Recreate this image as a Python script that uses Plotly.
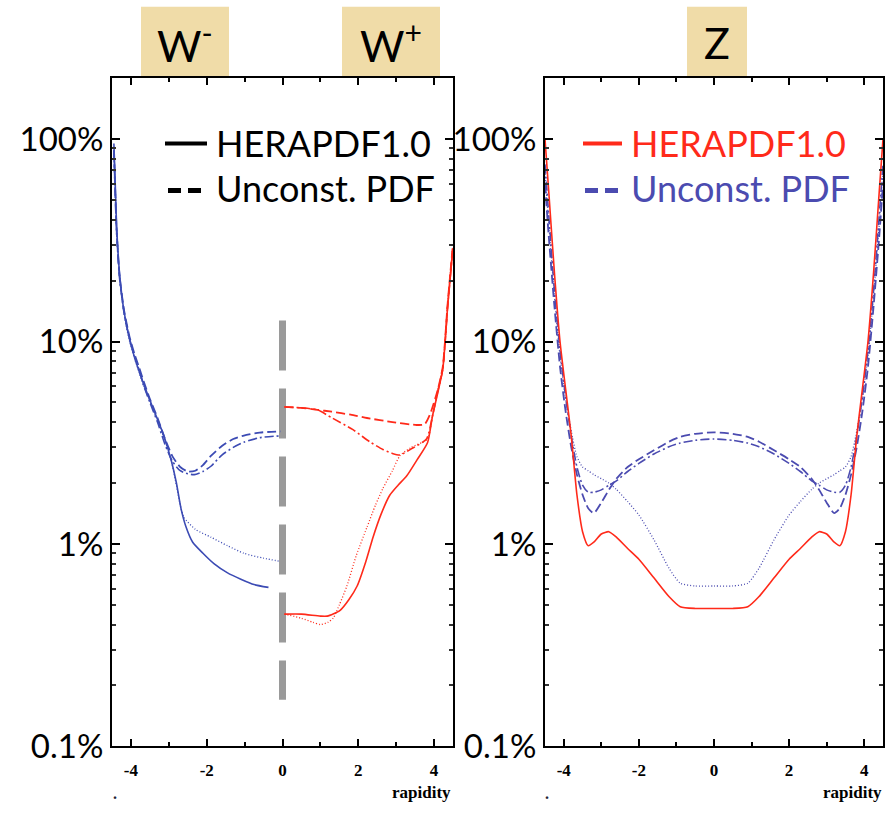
import plotly.graph_objects as go

W, H = 885, 824

# ---------------- data (percent) ----------------
# Left panel, W- (blue)
wm_sol_x = [-4.45, -4.42, -4.38, -4.3, -4.18, -4.04, -3.9, -3.78, -3.67, -3.4, -3.15, -2.94, -2.8, -2.68, -2.55, -2.37, -2.1, -1.81, -1.45, -1.1, -0.75, -0.37]
wm_sol_y = [95, 65, 38, 21.6, 14, 10.3, 8.3, 7.1, 6.2, 4.6, 3.5, 2.6, 2.0, 1.5, 1.22, 1.02, 0.9, 0.8, 0.72, 0.67, 0.63, 0.61]
wm_dot_x = [-4.45, -4.42, -4.38, -4.3, -4.18, -4.04, -3.9, -3.78, -3.67, -3.4, -3.15, -2.94, -2.8, -2.68, -2.6, -2.3, -1.89, -1.45, -1.02, -0.5, -0.05]
wm_dot_y = [92, 62, 37, 21.0, 13.6, 10.1, 8.2, 7.0, 6.1, 4.55, 3.45, 2.6, 1.95, 1.5, 1.35, 1.18, 1.08, 0.98, 0.9, 0.85, 0.82]
wm_dash_x = [-4.45, -4.42, -4.38, -4.3, -4.18, -4.04, -3.9, -3.78, -3.67, -3.5, -3.3, -3.1, -2.9, -2.7, -2.5, -2.3, -2.1, -1.89, -1.6, -1.3, -1.02, -0.6, -0.05]
wm_dash_y = [88, 60, 36, 21.0, 14.2, 10.6, 8.6, 7.4, 6.4, 5.2, 4.2, 3.3, 2.7, 2.4, 2.28, 2.3, 2.45, 2.72, 3.05, 3.3, 3.43, 3.55, 3.6]
wm_dd_x = [-4.45, -4.42, -4.38, -4.3, -4.18, -4.04, -3.9, -3.78, -3.67, -3.5, -3.3, -3.1, -2.9, -2.7, -2.5, -2.33, -2.1, -1.89, -1.6, -1.3, -1.02, -0.6, -0.05]
wm_dd_y = [85, 58, 35, 20.5, 13.8, 10.4, 8.4, 7.2, 6.1, 5.0, 4.0, 3.1, 2.55, 2.3, 2.22, 2.2, 2.28, 2.42, 2.75, 3.0, 3.18, 3.35, 3.42]

# Left panel, W+ (red)
wp_sol_x = [0.05, 0.5, 1.0, 1.18, 1.52, 1.75, 1.97, 2.2, 2.39, 2.6, 2.83, 3.05, 3.28, 3.55, 3.83, 3.96, 4.1, 4.23, 4.36, 4.49]
wp_sol_y = [0.45, 0.45, 0.44, 0.44, 0.47, 0.53, 0.62, 0.82, 1.08, 1.4, 1.74, 1.95, 2.17, 2.6, 3.17, 4.3, 5.6, 7.3, 15, 28]
wp_dot_x = [0.05, 0.5, 0.8, 1.0, 1.2, 1.34, 1.5, 1.7, 1.95, 2.23, 2.45, 2.65, 2.9, 3.1, 3.4, 3.83, 3.96, 4.1, 4.23, 4.36, 4.49]
wp_dot_y = [0.45, 0.43, 0.41, 0.40, 0.41, 0.43, 0.5, 0.62, 0.88, 1.21, 1.55, 1.88, 2.3, 2.73, 3.0, 3.3, 4.3, 5.7, 7.4, 15.5, 29]
wp_dash_x = [0.05, 0.5, 0.92, 1.3, 1.8, 2.23, 2.9, 3.54, 3.75, 3.9, 4.1, 4.23, 4.36, 4.49]
wp_dash_y = [4.75, 4.7, 4.6, 4.5, 4.35, 4.19, 4.0, 3.87, 3.9, 4.4, 5.8, 7.5, 15.5, 29]
wp_dd_x = [0.05, 0.5, 0.92, 1.3, 1.86, 2.3, 2.65, 2.9, 3.1, 3.4, 3.8, 3.96, 4.1, 4.23, 4.36, 4.49]
wp_dd_y = [4.75, 4.7, 4.6, 4.2, 3.67, 3.2, 2.93, 2.8, 2.75, 2.95, 3.3, 4.3, 5.7, 7.3, 15, 28]

# Right panel, Z
z_x = [-4.5, -4.4, -4.25, -4.1, -3.95, -3.8, -3.65, -3.5, -3.35, -3.2, -3.0, -2.8, -2.6, -2.3, -2.0, -1.6, -1.2, -0.9, -0.5, 0.0,
       0.5, 0.9, 1.2, 1.6, 2.0, 2.3, 2.6, 2.8, 3.0, 3.2, 3.35, 3.5, 3.65, 3.8, 3.95, 4.1, 4.25, 4.4, 4.5]
z_sol_y = [100, 55, 22, 10, 5.8, 3.4, 1.75, 1.15, 0.98, 1.02, 1.12, 1.15, 1.08, 0.95, 0.84, 0.68, 0.55, 0.49, 0.48, 0.48,
           0.48, 0.49, 0.55, 0.68, 0.84, 0.95, 1.08, 1.15, 1.12, 1.02, 0.98, 1.15, 1.75, 3.4, 5.8, 10, 22, 55, 100]
z_dot_y = [70, 38, 17, 8.5, 5.2, 3.6, 2.7, 2.4, 2.3, 2.2, 2.1, 2.0, 1.86, 1.62, 1.39, 1.05, 0.76, 0.64, 0.62, 0.62,
           0.62, 0.64, 0.76, 1.05, 1.39, 1.62, 1.86, 2.0, 2.1, 2.2, 2.3, 2.4, 2.7, 3.6, 5.2, 8.5, 17, 38, 70]
z_dash_y = [60, 33, 15, 7.5, 4.5, 3.0, 2.2, 1.75, 1.5, 1.42, 1.6, 1.85, 2.1, 2.4, 2.62, 2.9, 3.2, 3.38, 3.5, 3.56,
            3.5, 3.38, 3.2, 2.9, 2.62, 2.4, 2.1, 1.85, 1.6, 1.42, 1.5, 1.75, 2.2, 3.0, 4.5, 7.5, 15, 33, 60]
z_dd_y = [75, 42, 18, 9, 5.3, 3.4, 2.4, 1.95, 1.8, 1.8, 1.85, 1.95, 2.05, 2.28, 2.5, 2.78, 3.02, 3.15, 3.25, 3.3,
          3.25, 3.15, 3.02, 2.78, 2.5, 2.28, 2.05, 1.95, 1.85, 1.8, 1.8, 1.95, 2.4, 3.4, 5.3, 9, 18, 42, 75]

# marker line at rapidity 0 (W- / W+ divider)
div_x = [0, 0]
div_y = [12.7, 0.17]

# axes
y_tickvals = [0.1, 1, 10, 100]
y_ticktext = ["0.1%", "1%", "10%", "100%"]
y_minor = [m * d for d in [0.1, 1, 10, 100] for m in range(2, 10) if m * d < 200]
x_tickvals = [-4, -2, 0, 2, 4]
x_minor = [-3, -1, 1, 3]

BLUE = "#3c4bb4"
BLUE2 = "#4b4bb0"
RED = "#ff2a1a"

fig = go.Figure()

def add(x, y, color, dash, width, xa, ya):
    fig.add_trace(go.Scatter(x=x, y=y, mode="lines", xaxis=xa, yaxis=ya,
                             line=dict(color=color, dash=dash, width=width, shape="spline", smoothing=0.6),
                             showlegend=False, hoverinfo="skip"))

# divider
fig.add_trace(go.Scatter(x=div_x, y=div_y, mode="lines", xaxis="x", yaxis="y",
                         line=dict(color="#9a9a9a", width=7, dash="50px,18px"),
                         showlegend=False, hoverinfo="skip"))

add(wm_sol_x, wm_sol_y, BLUE, "solid", 1.6, "x", "y")
add(wm_dot_x, wm_dot_y, BLUE, "1px,2px", 1.3, "x", "y")
add(wm_dash_x, wm_dash_y, BLUE, "9px,4px", 1.8, "x", "y")
add(wm_dd_x, wm_dd_y, BLUE, "9px,3px,2px,3px", 1.6, "x", "y")
add(wp_sol_x, wp_sol_y, RED, "solid", 1.6, "x", "y")
add(wp_dot_x, wp_dot_y, RED, "1px,2px", 1.3, "x", "y")
add(wp_dash_x, wp_dash_y, RED, "9px,4px", 1.8, "x", "y")
add(wp_dd_x, wp_dd_y, RED, "9px,3px,2px,3px", 1.6, "x", "y")

add(z_x, z_dot_y, BLUE2, "1px,2px", 1.3, "x2", "y2")
add(z_x, z_dash_y, BLUE2, "9px,4px", 1.8, "x2", "y2")
add(z_x, z_dd_y, BLUE2, "9px,3px,2px,3px", 1.6, "x2", "y2")
add(z_x, z_sol_y, RED, "solid", 1.6, "x2", "y2")

def px(v):
    return v / W

def py(v):
    return 1 - v / H

xdom1 = [px(112), px(453)]
xdom2 = [px(545), px(883)]
ydom = [py(764), py(80)]

tickfont_x = dict(family="Liberation Serif", size=17, color="black")
tickfont_y = dict(family="Lato", size=33, color="black")

def xaxis(dom, anchor):
    return dict(domain=dom, anchor=anchor, range=[-4.5, 4.5], tickmode="array", tickvals=x_tickvals,
                ticktext=["<b>%d</b>" % v for v in x_tickvals], ticks="inside", ticklen=7, tickwidth=2,
                tickcolor="black", showline=True, linecolor="black", linewidth=2, mirror="allticks",
                showgrid=False, zeroline=False, tickfont=tickfont_x, ticklabelstandoff=7,
                minor=dict(tickmode="array", tickvals=x_minor, ticks="inside", ticklen=4, tickwidth=1.5,
                           tickcolor="black", showgrid=False))

def yaxis(dom, anchor):
    return dict(domain=dom, anchor=anchor, type="log", range=[-1, 2.301], tickmode="array",
                tickvals=y_tickvals, ticktext=y_ticktext, ticks="inside", ticklen=8, tickwidth=2,
                tickcolor="black", showline=True, linecolor="black", linewidth=2, mirror="allticks",
                showgrid=False, zeroline=False, tickfont=tickfont_y,
                minor=dict(tickmode="array", tickvals=y_minor, ticks="inside", ticklen=4, tickwidth=1.5,
                           tickcolor="#333", showgrid=False))

fig.update_layout(
    width=W, height=H, margin=dict(l=0, r=0, t=0, b=0),
    paper_bgcolor="white", plot_bgcolor="white",
    xaxis=xaxis(xdom1, "y"), yaxis=yaxis(ydom, "x"),
    xaxis2=xaxis(xdom2, "y2"), yaxis2=yaxis(ydom, "x2"),
)

shapes = []
annos = []
TAN = "#f0dca8"
# title boxes
for (x0, x1, label) in [(141, 229, "W<sup>-</sup>"), (342, 440, "W<sup>+</sup>"), (687, 747, "Z")]:
    shapes.append(dict(type="rect", xref="paper", yref="paper", x0=px(x0), x1=px(x1), y0=py(79), y1=py(7),
                       fillcolor=TAN, line=dict(width=0), layer="below"))
    annos.append(dict(xref="paper", yref="paper", x=px((x0 + x1) / 2), y=py(44), text=label, showarrow=False,
                      font=dict(family="Lato", size=43, color="black"), xanchor="center", yanchor="middle"))

# legends
def leg_seg(x0, x1, y, color, width):
    shapes.append(dict(type="line", xref="paper", yref="paper", x0=px(x0), x1=px(x1), y0=py(y), y1=py(y),
                       line=dict(color=color, width=width)))

def leg_text(x, y, text, color):
    annos.append(dict(xref="paper", yref="paper", x=px(x), y=py(y), text=text, showarrow=False,
                      font=dict(family="Lato", size=36, color=color), xanchor="left", yanchor="middle"))

leg_seg(165, 207, 147, "black", 4)
leg_seg(168, 181, 195, "black", 5)
leg_seg(188, 201, 195, "black", 5)
leg_text(214, 146, "HERAPDF1.0", "black")
leg_text(214, 192, "Unconst. PDF", "black")

leg_seg(583, 622, 147, RED, 4)
leg_seg(585, 598, 195, BLUE2, 5)
leg_seg(605, 618, 195, BLUE2, 5)
leg_text(629, 146, "HERAPDF1.0", RED)
leg_text(629, 192, "Unconst. PDF", BLUE2)

# x titles and stray dots
for (xr, xd) in [(453, 115), (884, 547)]:
    annos.append(dict(xref="paper", yref="paper", x=px(xr), y=py(811), text="<b>rapidity</b>", showarrow=False,
                      font=dict(family="Liberation Serif", size=17, color="black"), xanchor="right", yanchor="middle"))
    annos.append(dict(xref="paper", yref="paper", x=px(xd), y=py(812), text="<b>.</b>", showarrow=False,
                      font=dict(family="Liberation Serif", size=16, color="#223"), xanchor="center", yanchor="middle"))

fig.update_layout(shapes=shapes, annotations=annos)
fig.write_html("out.html")
